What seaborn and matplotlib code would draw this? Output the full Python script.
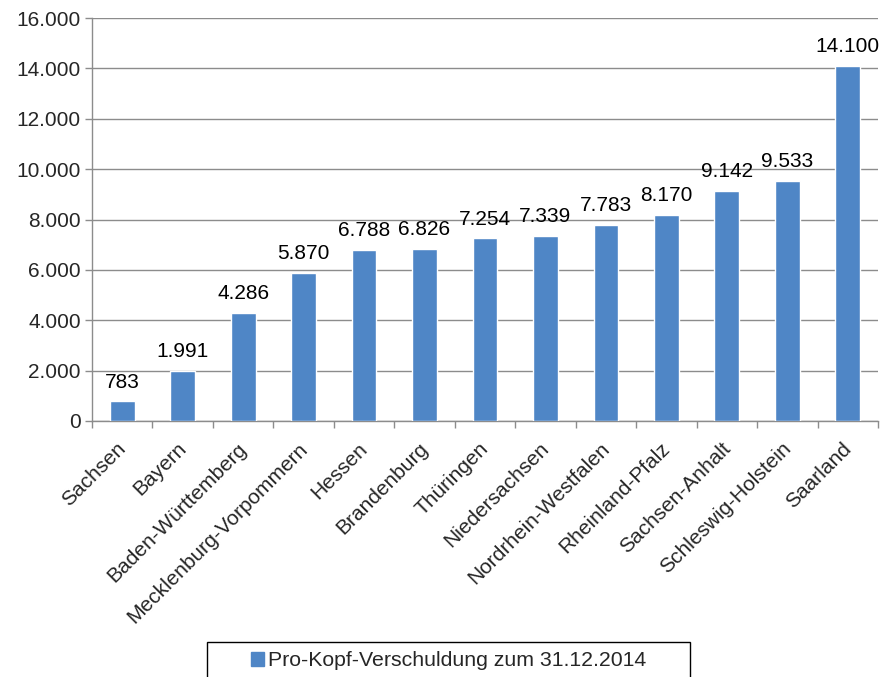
import matplotlib
matplotlib.use("Agg")
import matplotlib.pyplot as plt
import matplotlib.transforms as mtransforms
from matplotlib.patches import Rectangle
from matplotlib.ticker import FuncFormatter, FixedLocator
import seaborn as sns
import pandas as pd
import numpy as np

laender = ["Sachsen", "Bayern", "Baden-Württemberg", "Mecklenburg-Vorpommern",
           "Hessen", "Brandenburg", "Thüringen", "Niedersachsen",
           "Nordrhein-Westfalen", "Rheinland-Pfalz", "Sachsen-Anhalt",
           "Schleswig-Holstein", "Saarland"]
schulden = [783, 1991, 4286, 5870, 6788, 6826, 7254, 7339, 7783, 8170, 9142, 9533, 14100]
serie = "Pro-Kopf-Verschuldung zum 31.12.2014"

df = pd.DataFrame({"Land": laender, "Euro": schulden})

sns.set_style("white")
plt.rcParams["font.family"] = ["Liberation Sans", "DejaVu Sans"]

bar_color = "#4F86C6"
grid_color = "#8C8C8C"
fs = 15

fig = plt.figure(figsize=(8.81, 6.77), dpi=100)
ax = fig.add_axes([92 / 881, 1 - 421 / 677, 786 / 881, 403 / 677])

sns.barplot(data=df, x="Land", y="Euro", color=bar_color, width=0.41,
            saturation=1, ax=ax, zorder=3)

def de_format(v, pos=None):
    return f"{v:,.0f}".replace(",", ".")

ax.set_ylim(0, 16000)
ax.set_xlim(-0.5, len(laender) - 0.5)
ax.yaxis.set_major_locator(FixedLocator(np.arange(0, 16001, 2000)))
ax.yaxis.set_major_formatter(FuncFormatter(de_format))
ax.grid(axis="y", color=grid_color, linewidth=1.0, zorder=0)
ax.set_axisbelow(True)

for side in ["top", "right"]:
    ax.spines[side].set_visible(False)
for side in ["left", "bottom"]:
    ax.spines[side].set_color(grid_color)
    ax.spines[side].set_linewidth(1.0)

ax.tick_params(axis="y", which="major", left=True, length=5, color=grid_color,
               width=1.0, labelsize=fs, pad=3)
# category boundaries get the tick marks, the labels sit at the centres
ax.set_xticks(np.arange(-0.5, len(laender), 1.0), minor=True)
ax.tick_params(axis="x", which="minor", bottom=True, length=5, color=grid_color, width=1.0)
ax.tick_params(axis="x", which="major", bottom=False, length=0, labelsize=fs, pad=13)
ax.set_xticks(range(len(laender)))
ax.set_xticklabels(laender, rotation=45, ha="right", rotation_mode="anchor")
shift = mtransforms.ScaledTranslation(-6 / 100, 0, fig.dpi_scale_trans)
for lbl in ax.get_xticklabels():
    lbl.set_transform(lbl.get_transform() + shift)

ax.set_xlabel("")
ax.set_ylabel("")

for cont in ax.containers:
    ax.bar_label(cont, labels=[de_format(v) for v in schulden], padding=7,
                 fontsize=fs, color="#000000")

# legend box
box_l, box_r, box_t = 207 / 881, 690 / 881, 1 - 642 / 677
fig.patches.append(Rectangle((box_l, -0.05), box_r - box_l, box_t + 0.05,
                             transform=fig.transFigure, fill=False,
                             edgecolor="#000000", linewidth=1.0))
handle = Rectangle((0, 0), 1, 1, color=bar_color)
fig.legend([handle], [serie], loc="center", bbox_to_anchor=((box_l + box_r) / 2, 1 - 661 / 677),
           frameon=False, fontsize=15.3, handlelength=0.6, handleheight=0.6,
           handletextpad=0.2, borderpad=0)

fig.savefig("out.png", dpi=100)
